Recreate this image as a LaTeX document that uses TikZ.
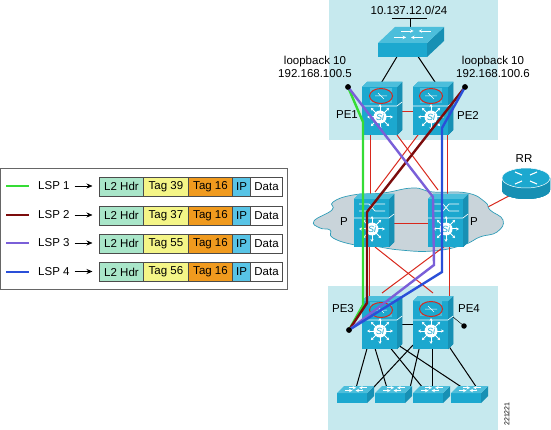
\documentclass[tikz,border=0pt]{standalone}
\usepackage{fontspec}
\setmainfont{Liberation Sans}
\usetikzlibrary{positioning,arrows.meta}
\definecolor{panelcyan}{HTML}{C6E9EE}
\definecolor{cloudgrey}{HTML}{C9D4DA}
\definecolor{cloudline}{HTML}{2F9DB8}
\definecolor{devfront}{HTML}{1CA8CF}
\definecolor{devside}{HTML}{1790B4}
\definecolor{devtop}{HTML}{4CBEDB}
\definecolor{linkred}{HTML}{D8281C}
\definecolor{lspgreen}{HTML}{35DC35}
\definecolor{lspred}{HTML}{7C0C0C}
\definecolor{lsppurple}{HTML}{7A5FD8}
\definecolor{lspblue}{HTML}{2A4FD8}
\definecolor{hdrgreen}{HTML}{A9E6C9}
\definecolor{tagyellow}{HTML}{F4F587}
\definecolor{tagorange}{HTML}{F09A1E}
\definecolor{ipblue}{HTML}{58C4E6}
\tikzset{
  txt/.style={font=\fontsize{11.5}{13}\selectfont,inner sep=0pt,text=black},
  cell/.style={draw=black!70,line width=0.7pt,minimum height=19pt,inner sep=0pt,outer sep=0pt,font=\fontsize{11.5}{13}\selectfont},
  redlink/.style={draw=linkred,line width=1pt},
  blacklink/.style={draw=black,line width=1pt},
  lsp/.style={line width=2.4pt,line join=miter},
  dot/.style={circle,fill=black,inner sep=0pt,minimum size=5.5pt},
}
% chassis, x y = centre of the Si star
\newcommand{\cathull}[3]{
  \begin{scope}[shift={(#2,#3)}]
    \fill[devfront] (-18,-30) rectangle (17,18);
    \fill[devside] (17,-30) -- (22,-35) -- (22,13) -- (17,18) -- cycle;
    \fill[devtop] (-18,-30) -- (-13,-35) -- (22,-35) -- (17,-30) -- cycle;
    \draw[white,line width=0.6pt] (-18,-11) -- (17,-11) -- (22,-15);
    \foreach \a in {0,45,...,315}
      \draw[white,line width=1pt,-{Stealth[length=3pt,width=3pt]}] (\a:5) -- (\a:13);
    \node[circle,fill=white,inner sep=0pt,minimum size=13pt,text=devfront,font=\fontsize{9}{9}\itshape\selectfont] (si#1) at (0,0) {Si};
  \end{scope}
}
\newcommand{\routertop}[2]{
  \fill[devtop] (#1-11,#2-8) rectangle (#1+11,#2+7);
  \draw[linkred,line width=1pt,fill=devfront] (#1,#2) ellipse (11.5 and 7.5);
  \draw[white,line width=0.5pt] (#1-6,#2) -- (#1+6,#2) (#1-3,#2-3) -- (#1+3,#2+3);
}
\newcommand{\switchtop}[2]{
  \draw[white,line width=0.7pt] (#1-13,#2-4) -- (#1-3,#2-4) -- (#1+3,#2+3) -- (#1+13,#2+3);
  \draw[white,line width=0.7pt] (#1-13,#2+3) -- (#1-3,#2+3) -- (#1+3,#2-4) -- (#1+13,#2-4);
}
% x y = lower left of the front, then width, height, x skew, depth
\newcommand{\swbox}[6]{
  \begin{scope}[shift={(#1,#2)}]
    \fill[devfront] (0,0) rectangle (#3,-#4);
    \fill[devside] (#3,0) -- (#3+#5,-#6) -- (#3+#5,-#6-#4) -- (#3,-#4) -- cycle;
    \fill[devtop] (0,-#4) -- (#5,-#4-#6) -- (#3+#5,-#4-#6) -- (#3,-#4) -- cycle;
    \draw[white,line width=0.6pt,->,>=stealth] (#5*0.5+#3*0.15,-#4-#6*0.35) -- +(#3*0.25,0);
    \draw[white,line width=0.6pt,->,>=stealth] (#5*0.5+#3*0.75,-#4-#6*0.35) -- +(-#3*0.25,0);
    \draw[white,line width=0.6pt,->,>=stealth] (#5*0.8+#3*0.2,-#4-#6*0.75) -- +(#3*0.25,0);
    \draw[white,line width=0.6pt,->,>=stealth] (#5*0.8+#3*0.8,-#4-#6*0.75) -- +(-#3*0.25,0);
  \end{scope}
}
\begin{document}
\begin{tikzpicture}[x=1pt,y=-1pt,>=stealth]
\useasboundingbox (0,0) rectangle (551,430);
\fill[panelcyan] (329,0) rectangle (498,140);
\fill[panelcyan] (328,286) rectangle (498,430);
% ports of the devices
\coordinate (PEaL) at (370.5,130);
\coordinate (PEaR) at (397,135);
\coordinate (PEbL) at (418,135);
\coordinate (PEbR) at (447.5,130);
\coordinate (PaT) at (370.5,200);
\coordinate (PaTR) at (375,192);
\coordinate (PaB) at (369.5,240);
\coordinate (PaBR) at (375,247);
\coordinate (PbT) at (447.5,200);
\coordinate (PbTL) at (438,190);
\coordinate (PbB) at (449.5,240);
\coordinate (PbBL) at (445,246);
\coordinate (PEcT) at (369.5,300);
\coordinate (PEcTR) at (382,293);
\coordinate (PEdTL) at (433,293);
\coordinate (PEdT) at (449.5,300);
\coordinate (PaE) at (380,223.5);
\coordinate (PbW) at (440,223.5);
\coordinate (PEaE) at (390,111.5);
\coordinate (PEbW) at (420,111.5);
\coordinate (PEcE) at (390,324.5);
\coordinate (PEdW) at (420,324.5);
\coordinate (RR) at (526,187);
\coordinate (PbC) at (446,229);
\coordinate (TOPa) at (398,55);
\coordinate (TOPb) at (417,55);
\coordinate (PEaT) at (380,85);
\coordinate (PEbT) at (437,85);
\coordinate (NETa) at (392,18.5);
\coordinate (NETb) at (427,18.5);
\coordinate (NETc) at (410.5,18);
\coordinate (NETd) at (410.5,30);
\coordinate (PEcA) at (368,345);
\coordinate (PEcB) at (374,345);
\coordinate (PEcC) at (388,345);
\coordinate (PEcD) at (398,345);
\coordinate (PEdA) at (413,345);
\coordinate (PEdB) at (420,345);
\coordinate (PEdC) at (432.5,345);
\coordinate (PEdD) at (448,345);
\coordinate (SWaL) at (356,388);
\coordinate (SWaR) at (373,388);
\coordinate (SWbL) at (387,388);
\coordinate (SWbR) at (410,388);
\coordinate (SWcL) at (423,388);
\coordinate (SWcR) at (432.5,388);
\coordinate (SWdL) at (463,388);
\coordinate (SWdR) at (477,388);
% RR runs under the cloud
\draw[redlink] (PbC) -- (RR);
\draw[cloudline,fill=cloudgrey,line width=0.7pt] plot[smooth cycle,tension=0.8] coordinates {(314,221) (332,210) (333,202) (353,195) (383,193) (413,188) (433,192) (467,193) (485,202) (490,210) (503,220) (497,232) (480,237) (463,245) (433,251) (400,250) (373,246) (355,245) (333,238) (330,230) (320,228)};
% red core links
\draw[redlink] (PEaE) -- (PEbW);
\draw[redlink] (PaE) -- (PbW);
\draw[redlink] (PEaL) -- (PaT);
\draw[redlink] (PEbR) -- (PbT);
\draw[redlink] (PEaR) -- (PbTL);
\draw[redlink] (PEbL) -- (PaTR);
\draw[redlink] (PaBR) -- (PEdTL);
\draw[redlink] (PbBL) -- (PEcTR);
\draw[redlink] (PbB) -- (PEdT);
\draw[redlink] (PaB) -- (PEcT);
% black access links
\draw[blacklink] (TOPa) -- (PEaT);
\draw[blacklink] (TOPb) -- (PEbT);
\draw[blacklink] (NETa) -- (NETb);
\draw[blacklink] (NETc) -- (NETd);
\draw[blacklink] (PEcE) -- (PEdW);
\draw[blacklink] (PEcA) -- (SWaL);
\draw[blacklink] (PEcB) -- (SWbL);
\draw[blacklink] (PEcC) -- (SWcL);
\draw[blacklink] (PEcD) -- (SWdL);
\draw[blacklink] (PEdA) -- (SWaR);
\draw[blacklink] (PEdB) -- (SWbR);
\draw[blacklink] (PEdC) -- (SWcR);
\draw[blacklink] (PEdD) -- (SWdR);
% switches
\swbox{378}{57}{49}{14}{17}{16}
\foreach \xx in {337,375,413,451}
  \swbox{\xx}{403}{30}{10}{7}{7}
\cathull{pea}{380}{117}
\routertop{381}{96}
\cathull{peb}{431}{117}
\routertop{431}{96}
\cathull{pa}{372}{229}
\switchtop{372}{208}
\cathull{pb}{446}{229}
\switchtop{446}{208}
\cathull{pec}{380}{331}
\routertop{381}{310}
\cathull{ped}{431}{331}
\routertop{431}{309}
% route reflector
\fill[devside] (502,178) -- (502,190) arc[start angle=180,end angle=0,x radius=24,y radius=9] -- (550,178) -- cycle;
\draw[white,fill=devfront,line width=0.5pt] (526,178) ellipse (24 and 10);
\draw[white,line width=1.1pt] (515,172) -- (522,175) (537,172) -- (530,175) (515,184) -- (522,181) (537,184) -- (530,181);
% loopback ends
\node[dot] (lbA) at (348,87) {};
\node[dot] (lbB) at (465,87) {};
\node[dot] (lbC) at (349,330) {};
\node[dot] (lbD) at (464,326) {};
\coordinate (lbDe) at (453,317);
\draw[black,line width=0.5pt] (lbDe) -- (lbD);
% the four LSPs
\draw[lsp,lspgreen] (lbA.center) -- (363,122) -- (363,305) -- (lbC.center);
\draw[lsp,lspred] (lbB.center) -- (367,212) -- (367,303) -- (lbC.center);
\draw[lsp,lsppurple] (lbA.center) -- (433,197) -- (434,265) -- (lbC.center);
\draw[lsp,lspblue] (lbB.center) -- (442,128) -- (442,272) -- (lbC.center);
\node[dot] at (lbA) {};
\node[dot] at (lbB) {};
\node[dot] at (lbC) {};
% labels
\node[txt] (netlbl) at (409,10) {10.137.12.0/24};
\node[txt,align=center] (lblA) at (315,67) {loopback 10\\192.168.100.5};
\node[txt,align=center] (lblB) at (493,67) {loopback 10\\192.168.100.6};
\node[txt] (namePEa) at (347,115) {PE1};
\node[txt] (namePEb) at (468,115) {PE2};
\node[txt] (namePEc) at (343,309) {PE3};
\node[txt] (namePEd) at (469,309) {PE4};
\node[txt] (namePa) at (344,222) {P};
\node[txt] (namePb) at (474,222) {P};
\node[txt] (nameRR) at (524,159) {RR};
\node[txt,rotate=90,font=\fontsize{7}{8}\selectfont] (figno) at (507,414) {221221};
% legend
\draw[draw=black!60,fill=white,line width=0.8pt] (0.5,168) rectangle (287,289);
\foreach \i/\yy/\tagno/\col in {1/186.5/39/lspgreen,2/215.5/37/lspred,3/243.5/55/lsppurple,4/272/56/lspblue} {
  \coordinate (keyA\i) at (6,{round(\yy-0.5)});
  \coordinate (keyB\i) at (29,{round(\yy-0.5)});
  \draw[draw=\col,line width=2pt] (keyA\i) -- (keyB\i);
  \node[txt,anchor=west] (lsp\i) at (38,\yy-0.5) {LSP \i};
  \node[cell,fill=hdrgreen,minimum width=44pt,anchor=west] (hdr\i) at (99.5,\yy) {L2 Hdr};
  \node[cell,fill=tagyellow,minimum width=45pt,right=0pt of hdr\i] (tag\i) {Tag \tagno};
  \node[cell,fill=tagorange,minimum width=44pt,right=0pt of tag\i] (lbl\i) {Tag 16};
  \node[cell,fill=ipblue,minimum width=18pt,right=0pt of lbl\i] (ip\i) {IP};
  \node[cell,fill=white,minimum width=32pt,right=0pt of ip\i] (data\i) {Data};
  \draw[-{Stealth[length=6pt,width=5pt]},line width=0.6pt,shorten <=5pt,shorten >=7pt] (lsp\i.east) -- (hdr\i.west |- lsp\i.east);
}
\end{tikzpicture}
\end{document}
